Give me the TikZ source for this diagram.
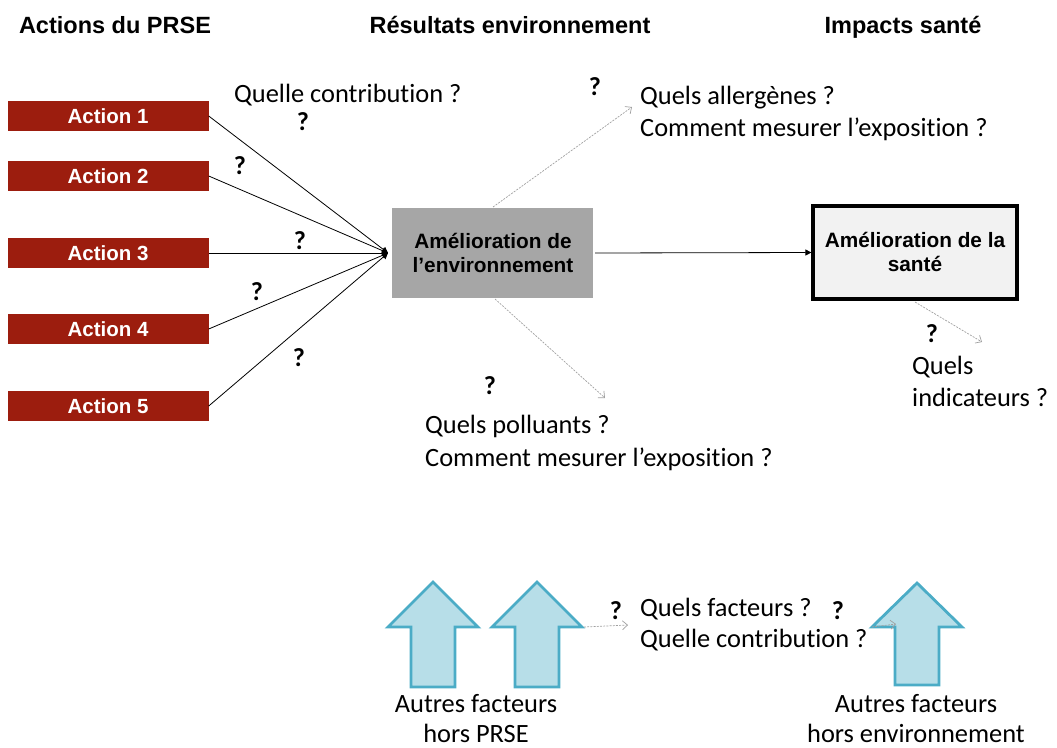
\documentclass[tikz,border=0pt]{standalone}
\usepackage{fontspec}
\setmainfont{Carlito}[Ligatures=NoCommon]
\newfontfamily\arial{Liberation Sans}
\usetikzlibrary{arrows.meta}
\definecolor{actred}{RGB}{156,29,14}
\definecolor{envgray}{RGB}{166,166,166}
\definecolor{healthfill}{RGB}{242,242,242}
\definecolor{arrfill}{RGB}{183,222,232}
\definecolor{arrline}{RGB}{75,172,198}
\definecolor{dashgray}{RGB}{160,160,160}
\tikzset{
  title/.style={font=\arial\bfseries\fontsize{23.5}{28}\selectfont, inner sep=0pt, anchor=base},
  actbox/.style={fill=actred, draw=none, minimum width=201pt, minimum height=30pt, inner sep=0pt,
    text=white, font=\arial\bfseries\fontsize{20.5}{24}\selectfont},
  lbl/.style={font=\fontsize{26.4}{32}\selectfont, inner sep=0pt, anchor=base west},
  clbl/.style={font=\fontsize{26.4}{32}\selectfont, inner sep=0pt, anchor=base},
  qm/.style={font=\bfseries\fontsize{26}{30}\selectfont, inner sep=0pt, anchor=base},
  boxtxt/.style={font=\arial\bfseries\fontsize{20.8}{24}\selectfont, inner sep=0pt, anchor=base},
  conn/.style={draw=black, line width=0.8pt, -{Triangle[length=6pt,width=6pt]}},
  qconn/.style={draw=dashgray, line width=0.7pt, dash pattern=on 2pt off 1.2pt, -{Straight Barb[length=5pt,width=9pt]}},
  blockarrow/.style={fill=arrfill, draw=arrline, line width=2.8pt, line join=miter},
}
\begin{document}
\begin{tikzpicture}[x=1pt,y=-1pt]
\useasboundingbox (0,0) rectangle (1057,747);
% titles
\node[title] (t1) at (115,33) {Actions du PRSE};
\node[title] (t2) at (510,33) {Résultats environnement};
\node[title] (t3) at (903,33) {Impacts santé};
% action boxes
\node[actbox] (a1) at (108,116) {Action 1};
\node[actbox] (a2) at (108,176) {Action 2};
\node[actbox] (a3) at (108,253) {Action 3};
\node[actbox] (a4) at (108,329) {Action 4};
\node[actbox] (a5) at (108,406) {Action 5};
% environment box
\node[fill=envgray, draw=none, minimum width=201pt, minimum height=90pt, inner sep=0pt] (env) at (492.5,253) {};
\node[boxtxt] (envt1) at (493,248) {Amélioration de};
\node[boxtxt] (envt2) at (493,272) {l’environnement};
% health box
\node[fill=healthfill, draw=black, line width=3.2pt, minimum width=204pt, minimum height=93pt, inner sep=0pt] (hea) at (915,252.5) {};
\node[boxtxt] (heat1) at (915,247) {Amélioration de la};
\node[boxtxt] (heat2) at (915,271) {santé};
% convergence
\coordinate (conv) at (388,253);
\draw[conn] (a1.east) -- (conv);
\draw[conn] (a2.east) -- (conv);
\draw[conn] (a3.east) -- (conv);
\draw[conn] (a4.east) -- (conv);
\draw[conn] (a5.east) -- (conv);
\draw[conn] (env.east) ++(2,0) coordinate (envr) -- (hea.west);
% question labels
\node[lbl] (qc) at (234,102) {Quelle contribution ?};
\node[qm] (q1) at (303,130) {?};
\node[qm] (q2) at (240,174) {?};
\node[qm] (q3) at (300,249) {?};
\node[qm] (q4) at (257,300) {?};
\node[qm] (q5) at (299,366) {?};
\node[qm] (q6) at (595,95) {?};
\node[qm] (q7) at (490,394) {?};
\node[qm] (q8) at (932,342) {?};
\node[qm] (q9) at (616,619) {?};
\node[qm] (q10) at (838,619) {?};
\node[lbl] (al1) at (640,104) {Quels allergènes ?};
\node[lbl] (al2) at (640,136) {Comment mesurer l’exposition ?};
\node[lbl] (po1) at (425,433) {Quels polluants ?};
\node[lbl] (po2) at (425,466) {Comment mesurer l’exposition ?};
\node[lbl] (in1) at (912,374) {Quels};
\node[lbl] (in2) at (912,406) {indicateurs ?};
\node[lbl] (fa1) at (640,616) {Quels facteurs ?};
\node[lbl] (fa2) at (640,647) {Quelle contribution ?};
\node[clbl] (au1) at (476,712) {Autres facteurs};
\node[clbl] (au2) at (476,742) {hors PRSE};
\node[clbl] (ae1) at (916,712) {Autres facteurs};
\node[clbl] (ae2) at (916,742) {hors environnement};
% gray dashed question arrows
\coordinate (envtop) at (493,207);
\coordinate (envbot) at (495,299);
\coordinate (heabot) at (915,302);
\coordinate (altip) at (632,107);
\coordinate (potip) at (605,398);
\coordinate (intip) at (982,342);
\draw[qconn] (envtop) -- (altip);
\draw[qconn] (envbot) -- (potip);
\draw[qconn] (heabot) -- (intip);
% block arrows
\foreach \cx/\nm/\tp/\bt in {433/ba1/582/687, 537/ba2/582/687, 917/ba3/583/685}{
  \draw[blockarrow] (\cx,\tp) -- (\cx+45,627) -- (\cx+22,627) -- (\cx+22,\bt) -- (\cx-22,\bt) -- (\cx-22,627) -- (\cx-45,627) -- cycle;
  \coordinate (\nm r) at (\cx+45,627);
  \coordinate (\nm l) at (\cx-45,627);
}
\coordinate (fatip) at (628,625);
\coordinate (ba3tip) at (896,624);
\draw[qconn] (ba2r) ++(2,0) -- (fatip);
\draw[qconn] (ba3l) -- (ba3tip);
\end{tikzpicture}
\end{document}
